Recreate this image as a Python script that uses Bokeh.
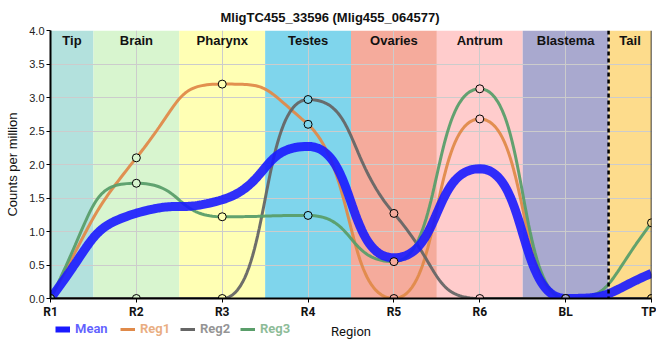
import numpy as np
from bokeh.plotting import figure
from bokeh.layouts import column
from bokeh.models import (FixedTicker, NumeralTickFormatter, Span, Legend,
                          LegendItem, Range1d)
from bokeh.core.properties import value
from bokeh.embed import file_html
from bokeh.resources import INLINE

# ---------------- data ----------------
title_text = "MligTC455_33596 (Mlig455_064577)"
regions = ["R1", "R2", "R3", "R4", "R5", "R6", "BL", "TP"]
band_names = ["Tip", "Brain", "Pharynx", "Testes", "Ovaries", "Antrum", "Blastema", "Tail"]
reg1 = [0.0, 2.10, 3.20, 2.60, 0.0, 2.68, 0.0, 0.0]
reg2 = [0.0, 0.0, 0.0, 2.97, 1.27, 0.0, 0.0, 0.0]
reg3 = [0.0, 1.72, 1.22, 1.24, 0.55, 3.13, 0.0, 1.13]
series_names = ["Reg1", "Reg2", "Reg3"]
mean_name = "Mean"
mean_vals = list(np.mean([reg1, reg2, reg3], axis=0))
y_label = "Counts per million"
x_label = "Region"

# ---------------- styles ----------------
band_colors = ["#b3e1dd", "#d8f5cf", "#ffffb4", "#7fd5ec",
               "#f5ab9c", "#ffcccc", "#a9a9cf", "#fddc8c"]
series_colors = ["#e08a4a", "#666666", "#5a9e6a"]
mean_color = "#1a1aff"
W = 656


def tangents(y):
    y = np.asarray(y, float)
    n = len(y)
    s = np.diff(y)
    m = np.zeros(n)
    for i in range(1, n - 1):
        s0, s1 = s[i - 1], s[i]
        p = (s0 + s1) / 2.0
        m[i] = (np.sign(s0) + np.sign(s1)) * min(abs(s0), abs(s1), 0.5 * abs(p))
    m[0] = (3 * s[0] - m[1]) / 2.0
    m[-1] = (3 * s[-1] - m[-2]) / 2.0
    return m


def smooth(y, a=0.55, k=40):
    y = np.asarray(y, float)
    m = tangents(y)
    t = np.linspace(0, 1, k + 1)
    xs, ys = [], []
    for i in range(len(y) - 1):
        y0, y1 = y[i], y[i + 1]
        lo, hi = min(y0, y1), max(y0, y1)
        c0 = np.clip(y0 + a * m[i], lo, hi)
        c1 = np.clip(y1 - a * m[i + 1], lo, hi)
        b0, b1, b2, b3 = (1 - t) ** 3, 3 * (1 - t) ** 2 * t, 3 * (1 - t) * t ** 2, t ** 3
        bx = b0 * i + b1 * (i + a) + b2 * (i + 1 - a) + b3 * (i + 1)
        by = b0 * y0 + b1 * c0 + b2 * c1 + b3 * y1
        if i > 0:
            bx, by = bx[1:], by[1:]
        xs.append(bx)
        ys.append(by)
    return np.concatenate(xs), np.concatenate(ys)


n = len(regions)
xi = list(range(n))
xmax = n - 1
xr = Range1d(0, xmax)

p = figure(width=W, height=321, x_range=xr, y_range=Range1d(0, 4),
           output_backend="svg", toolbar_location=None,
           min_border_left=50, min_border_right=5, min_border_top=30,
           min_border_bottom=21)
p.outline_line_color = None

# title
p.title.text = title_text
p.title.align = "left"
p.title.offset = 170
p.title.standoff = 12
p.title.text_font = "Liberation Sans"
p.title.text_font_size = "13px"
p.title.text_font_style = "bold"
p.title.text_color = "#111111"

# region bands
lefts = [max(i - 0.5, 0) for i in xi]
rights = [min(i + 0.5, xmax) for i in xi]
p.quad(left=lefts, right=rights, bottom=0, top=4, fill_color=band_colors,
       line_color=None, level="image")
centers = [(l + r) / 2 for l, r in zip(lefts, rights)]
p.text(x=centers, y=[4] * n, text=band_names, text_align="center",
       text_baseline="middle", y_offset=10, text_font=value("Liberation Sans"),
       text_font_size="13px", text_font_style="bold", text_color="#111111")

# grid
p.xgrid.ticker = FixedTicker(ticks=xi)
yt = [v / 2 for v in range(9)]
p.ygrid.ticker = FixedTicker(ticks=yt)
p.grid.grid_line_color = "#cccccc"
p.grid.grid_line_width = 1

# curves
for s, col in zip((reg1, reg2, reg3), series_colors):
    cx, cy = smooth(s)
    p.line(cx, cy, line_color=col, line_width=3, line_alpha=0.95)
mx, my = smooth(mean_vals)
p.line(mx, my, line_color=mean_color, line_width=9, line_alpha=0.9)

# markers
for s in (reg1, reg2, reg3):
    p.scatter(xi, s, marker="circle", size=8, fill_color=band_colors,
              line_color="black", line_width=1)

# tail divider and right border
p.add_layout(Span(location=lefts[-1], dimension="height", line_color="black",
                  line_width=2.5, line_dash="4 3"))
p.add_layout(Span(location=xmax, dimension="height", line_color="black",
                  line_width=1.5))

# axes
p.xaxis.ticker = FixedTicker(ticks=xi)
p.xaxis.major_label_overrides = {i: r for i, r in zip(xi, regions)}
p.yaxis.ticker = FixedTicker(ticks=yt)
p.yaxis.formatter = NumeralTickFormatter(format="0.0")
for ax in (p.xaxis[0], p.yaxis[0]):
    ax.axis_line_color = "black"
    ax.axis_line_width = 2
    ax.major_tick_out = 4
    ax.major_tick_in = 0
    ax.minor_tick_out = 0
    ax.minor_tick_in = 0
    ax.major_tick_line_color = "black"
p.xaxis.major_label_text_font = "Roboto"
p.xaxis.major_label_text_font_size = "12px"
p.xaxis.major_label_text_font_style = "bold"
p.xaxis.major_label_text_color = "#111111"
p.xaxis.major_label_standoff = 2
p.yaxis.major_label_text_font = "Liberation Sans"
p.yaxis.major_label_text_font_size = "11px"
p.yaxis.major_label_text_color = "#222222"
p.yaxis.major_label_standoff = 2
p.yaxis.axis_label = y_label
p.yaxis.axis_label_text_font = "Liberation Sans"
p.yaxis.axis_label_text_font_size = "13px"
p.yaxis.axis_label_text_font_style = "normal"
p.yaxis.axis_label_text_color = "#111111"
p.yaxis.axis_label_standoff = 6

# legend row (own strip so each label can carry its own colour)
QH = 25
q = figure(width=W, height=QH, x_range=xr, y_range=Range1d(0, 1),
           output_backend="svg", toolbar_location=None,
           x_axis_location=None, y_axis_location=None,
           min_border_left=50, min_border_right=5, min_border_top=0,
           min_border_bottom=0)
q.grid.visible = False
q.outline_line_color = None
q.text(x=[xmax / 2], y=[0.6], text=[x_label], text_align="center",
       text_baseline="middle", text_font=value("Roboto"),
       text_font_size="13px", text_color="#111111")

leg_specs = [(mean_name, mean_color, 6)] + [(nm, c, 3) for nm, c in zip(series_names, series_colors)]
leg_x = [5, 70, 130, 190]
nan2 = np.array([np.nan, np.nan])
for (nm, col, lw), lx in zip(leg_specs, leg_x):
    r = q.line(x=nan2, y=nan2, line_color=col, line_width=lw)
    leg = Legend(items=[LegendItem(label=nm, renderers=[r])], location=(lx, 10),
                 orientation="horizontal", padding=0, margin=0, spacing=0,
                 glyph_width=15, glyph_height=14, label_height=14,
                 label_standoff=5, label_text_font="Roboto",
                 label_text_font_size="13px", label_text_font_style="bold",
                 label_text_color=col, label_text_alpha=0.7,
                 border_line_color=None, background_fill_alpha=0)
    q.add_layout(leg)

open("out.html", "w").write(file_html(column(p, q, spacing=0), INLINE))
